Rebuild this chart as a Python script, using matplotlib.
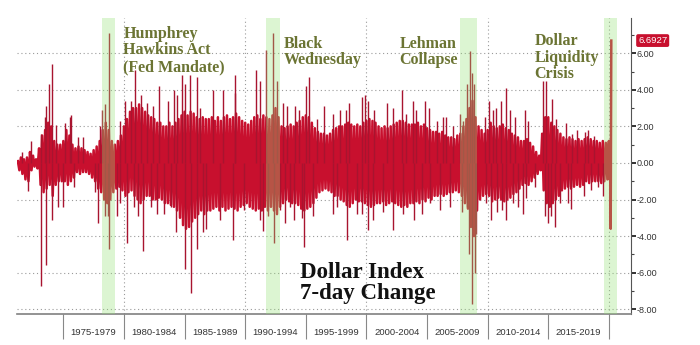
import numpy as np
import matplotlib.pyplot as plt
from matplotlib.ticker import MultipleLocator, FixedLocator, NullFormatter
from matplotlib.transforms import blended_transform_factory

# Dollar Index 7-day change (%), quarterly swing of the dense weekly series
start_year = 1971.25
body_hi = [
    0.1, 0.3, 0.2,             # 1971 (Q2-Q4)
    0.3, 0.6, 0.4, 0.2,        # 1972
    0.8, 1.5, 1.8, 2.2,        # 1973
    2.0, 1.2, 1.0, 1.0,        # 1974
    1.2, 1.8, 1.5, 1.0,        # 1975
    0.8, 0.9, 0.8, 0.7,        # 1976
    0.6, 0.5, 0.7, 0.9,        # 1977
    1.2, 1.8, 2.2, 1.8,        # 1978
    1.2, 1.0, 1.2, 1.5,        # 1979
    2.0, 2.4, 2.8, 3.0,        # 1980
    3.0, 3.2, 3.0, 2.8,        # 1981
    2.6, 2.5, 2.4, 2.2,        # 1982
    2.2, 2.0, 2.0, 2.2,        # 1983
    2.0, 2.2, 2.4, 2.6,        # 1984
    2.8, 2.6, 2.8, 2.7,        # 1985
    2.5, 2.4, 2.5, 2.4,        # 1986
    2.4, 2.5, 2.3, 2.5,        # 1987
    2.3, 2.5, 2.6, 2.4,        # 1988
    2.5, 2.7, 2.5, 2.3,        # 1989
    2.2, 2.1, 2.3, 2.5,        # 1990
    2.6, 2.4, 2.6, 2.5,        # 1991
    2.4, 2.6, 3.0, 2.5,        # 1992
    2.0, 1.9, 2.0, 2.1,        # 1993
    2.0, 2.2, 2.3, 2.5,        # 1994
    2.6, 2.5, 2.2, 1.9,        # 1995
    1.7, 1.6, 1.6, 1.5,        # 1996
    1.6, 1.8, 1.9, 2.0,        # 1997
    2.0, 2.1, 2.2, 2.1,        # 1998
    2.0, 2.1, 2.0, 2.2,        # 1999
    2.3, 2.4, 2.3, 2.2,        # 2000
    2.0, 1.9, 2.0, 1.9,        # 2001
    2.0, 2.1, 2.2, 2.3,        # 2002
    2.3, 2.2, 2.1, 2.1,        # 2003
    2.1, 2.2, 2.0, 2.1,        # 2004
    1.9, 1.8, 1.7, 1.7,        # 2005
    1.6, 1.7, 1.5, 1.4,        # 2006
    1.4, 1.3, 1.5, 1.6,        # 2007
    2.0, 2.4, 3.0, 3.4,        # 2008
    2.5, 2.0, 1.8, 1.6,        # 2009
    1.8, 2.2, 2.0, 1.9,        # 2010
    2.0, 2.1, 1.9, 1.8,        # 2011
    1.6, 1.5, 1.4, 1.2,        # 2012
    1.2, 1.3, 1.1, 0.9,        # 2013
    0.6, 0.4, 1.6, 2.5,        # 2014
    2.5, 2.2, 2.0, 1.8,        # 2015
    1.6, 1.4, 1.3, 1.4,        # 2016
    1.3, 1.2, 1.3, 1.2,        # 2017
    1.3, 1.4, 1.3, 1.2,        # 2018
    1.2, 1.1, 1.2, 1.1,        # 2019
]
body_lo = [
    -0.4, -0.6, -0.9,          # 1971
    -1.0, -0.4, -0.2, -0.3,    # 1972
    -1.2, -1.6, -1.4, -1.2,    # 1973
    -1.8, -1.2, -1.0, -1.0,    # 1974
    -1.0, -1.2, -1.0, -0.8,    # 1975
    -0.5, -0.6, -0.5, -0.5,    # 1976
    -0.6, -0.8, -1.0, -1.4,    # 1977
    -1.6, -2.0, -2.2, -2.0,    # 1978
    -1.6, -1.4, -1.3, -1.5,    # 1979
    -1.8, -1.6, -1.5, -1.8,    # 1980
    -2.0, -2.2, -2.0, -1.8,    # 1981
    -1.8, -2.0, -2.0, -1.9,    # 1982
    -2.0, -2.2, -2.2, -2.3,    # 1983
    -2.4, -2.6, -3.0, -3.4,    # 1984
    -3.6, -3.5, -3.2, -3.0,    # 1985
    -2.8, -2.6, -2.8, -2.6,    # 1986
    -2.6, -2.5, -2.4, -2.6,    # 1987
    -2.4, -2.6, -2.5, -2.4,    # 1988
    -2.5, -2.6, -2.4, -2.3,    # 1989
    -2.2, -2.4, -2.5, -2.6,    # 1990
    -2.5, -2.6, -2.4, -2.6,    # 1991
    -2.4, -2.6, -2.8, -2.4,    # 1992
    -2.2, -2.0, -2.1, -2.2,    # 1993
    -2.2, -2.3, -2.5, -2.6,    # 1994
    -2.5, -2.4, -2.2, -1.9,    # 1995
    -1.6, -1.5, -1.4, -1.5,    # 1996
    -1.6, -1.8, -1.8, -2.0,    # 1997
    -2.1, -2.3, -2.4, -2.2,    # 1998
    -2.0, -2.1, -2.1, -2.2,    # 1999
    -2.3, -2.4, -2.3, -2.2,    # 2000
    -2.2, -2.1, -2.3, -2.2,    # 2001
    -2.1, -2.2, -2.3, -2.4,    # 2002
    -2.3, -2.4, -2.2, -2.2,    # 2003
    -2.1, -2.2, -2.0, -2.1,    # 2004
    -1.9, -2.0, -1.8, -1.8,    # 2005
    -1.7, -1.8, -1.7, -1.6,    # 2006
    -1.6, -1.5, -1.6, -1.8,    # 2007
    -2.2, -2.5, -3.5, -4.0,    # 2008
    -2.6, -2.0, -1.8, -1.7,    # 2009
    -1.8, -2.1, -2.0, -1.9,    # 2010
    -2.0, -2.1, -2.0, -1.9,    # 2011
    -1.7, -1.6, -1.4, -1.2,    # 2012
    -1.1, -1.2, -1.0, -0.8,    # 2013
    -0.6, -0.4, -1.5, -2.2,    # 2014
    -2.4, -2.2, -2.0, -1.8,    # 2015
    -1.5, -1.4, -1.3, -1.4,    # 2016
    -1.3, -1.2, -1.3, -1.2,    # 2017
    -1.0, -1.1, -1.0, -1.0,    # 2018
    -1.0, -1.1, -1.0, -0.9,    # 2019
]

# single weeks that stick out of the band
spike_years = [
    1971.6, 1972.05, 1972.35, 1973.16, 1973.18, 1973.45, 1973.55, 1973.6, 1973.85, 1974.04,
    1974.1, 1974.4, 1974.55, 1974.95, 1975.1, 1975.55, 1975.65, 1975.9, 1976.2, 1976.6,
    1977.65, 1977.9, 1978.0, 1978.15, 1978.4, 1978.45, 1978.65, 1978.8, 1978.78, 1979.4,
    1979.65, 1979.7, 1980.09, 1980.23, 1980.6, 1980.8, 1980.91, 1981.2, 1981.4, 1981.6,
    1981.9, 1982.2, 1982.4, 1982.7, 1982.9, 1983.3, 1983.6, 1983.9, 1984.1, 1984.3,
    1984.35, 1984.76, 1985.03, 1985.05, 1985.45, 1985.5, 1986.0, 1986.02, 1986.3, 1986.5,
    1986.8, 1987.37, 1987.9, 1988.2, 1989.0, 1989.15, 1989.2, 1989.9, 1990.89, 1991.2,
    1991.22, 1991.5, 1991.7, 1991.9, 1992.3, 1992.4, 1992.6, 1992.9, 1993.1, 1993.3,
    1993.45, 1993.7, 1994.0, 1994.1, 1994.4, 1994.7, 1994.84, 1995.0, 1995.26, 1995.6,
    1995.95, 1996.5, 1997.26, 1997.28, 1997.54, 1997.8, 1998.3, 1998.36, 1998.6, 1999.2,
    1999.6, 1999.62, 1999.87, 2000.15, 2000.12, 2000.56, 2000.6, 2001.4, 2001.66, 2002.2,
    2002.22, 2002.9, 2003.03, 2003.3, 2003.85, 2003.9, 2004.13, 2004.55, 2004.8, 2005.2,
    2005.22, 2005.8, 2006.05, 2006.3, 2006.6, 2006.9, 2007.15, 2007.7, 2007.85, 2007.98,
    2008.26, 2008.3, 2008.47, 2008.53, 2008.72, 2008.75, 2008.86, 2008.94, 2009.08, 2009.76,
    2009.9, 2010.12, 2010.3, 2010.45, 2010.73, 2010.75, 2011.14, 2011.16, 2011.5, 2011.55,
    2011.83, 2012.1, 2012.24, 2012.5, 2012.9, 2013.06, 2013.2, 2013.33, 2013.9, 2014.6,
    2014.7, 2014.84, 2014.97, 2015.25, 2015.27, 2015.52, 2015.66, 2015.93, 2016.5, 2016.63,
    2016.9, 2016.92, 2017.4, 2017.97, 2017.99, 2018.25, 2018.5, 2018.8, 2019.1, 2019.5,
]
spike_vals = [
    0.6, -1.55, 1.2, -6.75, 1.6, 2.5, -5.6, 3.1, 4.3, 5.4,
    -3.1, 2.1, -2.4, -2.4, 2.2, 2.5, 2.6, -1.3, 1.4, 1.4,
    -1.6, -3.3, 2.0, 2.9, -2.9, 3.2, -2.9, -4.7, 7.1, -2.9,
    -2.2, 2.3, 3.4, -4.4, 3.4, -2.4, 5.1, -2.9, 3.7, -4.8,
    3.3, -2.4, 3.1, -2.8, 4.2, -2.8, 3.4, -2.4, 4.0, -3.8,
    3.7, 4.8, -5.8, 4.3, 4.8, -7.1, -4.7, 4.7, 3.0, -3.8,
    -3.6, 4.0, -3.1, 4.0, -4.2, 4.8, 3.8, -2.6, 5.1, 4.5,
    -3.1, -3.7, 6.2, -2.9, 7.1, -4.4, 4.5, -2.6, 3.3, -3.3,
    3.1, -2.4, -3.1, 3.1, 2.9, -3.0, -4.6, 4.2, 4.7, -2.9,
    2.4, 3.1, -2.8, 2.7, -2.4, 2.9, 2.9, -4.2, 3.3, -2.8,
    3.6, -2.8, 3.7, -3.65, 3.4, -3.1, 2.9, -2.7, 3.3, 3.0,
    -3.65, 4.0, -2.8, 2.7, 3.4, -3.1, 2.9, -2.8, 3.4, 3.0,
    -2.2, 2.3, -2.6, 2.5, 2.5, -2.4, 2.0, 2.7, -2.7, 2.3,
    -2.4, 4.3, -5.0, 6.1, -7.7, 4.9, 4.3, -6.0, -3.9, 2.5,
    -2.2, 3.4, -3.1, 2.9, 3.0, -2.7, 3.4, -2.6, 4.1, -3.1,
    2.9, -2.2, 2.5, -2.4, -2.8, 2.9, -1.9, 2.3, -1.3, 4.5,
    -2.9, 4.5, -3.3, -2.9, 3.5, -3.5, 2.4, -2.2, 2.2, -2.2,
    -2.5, 1.6, 1.8, -1.8, 1.7, 1.8, -1.5, 1.5, -1.3, -1.8,
]

# last weeks of the series, ending on the latest print
tail_years = [2020.0, 2020.06, 2020.11, 2020.15, 2020.2]
tail_vals = [1.2, -0.9, 1.0, -3.6, 6.6927]
last_value = 6.6927

period_labels = ['1975-1979', '1980-1984', '1985-1989', '1990-1994', '1995-1999',
                 '2000-2004', '2005-2009', '2010-2014', '2015-2019']
period_starts = [1975, 1980, 1985, 1990, 1995, 2000, 2005, 2010, 2015]

event_names = ['Humphrey\nHawkins Act\n(Fed Mandate)', 'Black\nWednesday',
               'Lehman\nCollapse', 'Dollar\nLiquidity\nCrisis']
event_starts = [1978.2, 1991.7, 2007.75, 2019.6]
event_ends = [1979.25, 1992.85, 2009.1, 2020.7]
event_text_x = [1979.95, 1993.2, 2002.75, 2013.85]
event_text_y = [7.5, 6.95, 6.95, 7.1]

bar_red = '#c8102e'
spike_red = '#a8142f'
band_green = '#96e178'
olive = '#6b7433'


def draw_series(ax):
    t = start_year + 0.25 * np.arange(len(body_hi))
    xs = np.column_stack([t, t + 0.125]).ravel()
    ys = np.column_stack([body_hi, body_lo]).ravel()
    xs = np.concatenate([xs, tail_years])
    ys = np.concatenate([ys, tail_vals])
    ax.plot(xs, ys, color=bar_red, lw=1.8, zorder=3)
    ax.vlines(spike_years, 0, spike_vals, color=spike_red, lw=1.0, zorder=3)


def main():
    fig = plt.figure(figsize=(7, 3.45), dpi=100)
    ax = fig.add_axes([0.0243, 0.0899, 0.8767, 0.8581])

    # event windows drawn over the series
    for s, e in zip(event_starts, event_ends):
        ax.axvspan(s, e, color=band_green, alpha=0.33, lw=0, zorder=4)

    draw_series(ax)

    # dotted grid
    for y in range(-8, 7, 2):
        ax.axhline(y, color='#9a9a9a', lw=0.8, ls=(0, (1, 2.5)), zorder=1)
    for x in [1980, 1990, 2000, 2010, 2020]:
        ax.axvline(x, color='#9a9a9a', lw=0.8, ls=(0, (1, 2.5)), zorder=1)

    ax.set_xlim(1971.18, 2021.8)
    ax.set_ylim(-8.26, 7.93)

    # right-hand value axis
    ax.yaxis.tick_right()
    ax.set_yticks(np.arange(-8, 7, 2))
    ax.set_yticklabels(['%.2f' % v for v in np.arange(-8, 7, 2)])
    ax.yaxis.set_minor_locator(MultipleLocator(1))
    ax.tick_params(axis='y', which='major', direction='out', length=3.5, width=1.3,
                   colors='#222222', labelsize=6.5, pad=1)
    ax.tick_params(axis='y', which='minor', direction='out', length=2.5, width=0.8,
                   color='#444444')
    for lab in ax.get_yticklabels():
        lab.set_fontfamily('Liberation Sans')
        lab.set_color('#333333')

    # five-year period axis: dividers on the boundaries, names in between
    centers = [p + 2.5 for p in period_starts]
    ax.xaxis.set_major_locator(FixedLocator(centers))
    ax.set_xticklabels(period_labels, fontsize=6.8, family='Liberation Sans', color='#333333')
    ax.xaxis.set_minor_locator(FixedLocator(period_starts + [2020]))
    ax.xaxis.set_minor_formatter(NullFormatter())
    ax.tick_params(axis='x', which='major', length=0, pad=10)
    ax.tick_params(axis='x', which='minor', direction='out', length=18, width=0.8, color='#888888')

    for side in ['left', 'top']:
        ax.spines[side].set_visible(False)
    ax.spines['right'].set_color('#555555')
    ax.spines['bottom'].set_color('#808080')
    ax.spines['bottom'].set_linewidth(1.2)

    for name, x, y in zip(event_names, event_text_x, event_text_y):
        ax.text(x, y, name, color=olive, fontsize=11.5, fontweight='bold',
                family='Liberation Serif', va='top', ha='left', linespacing=1.05, zorder=6)

    ax.text(1994.5, -5.4, 'Dollar Index\n7-day Change', color='#111111', fontsize=16.5,
            fontweight='bold', family='Liberation Serif', va='top', ha='left',
            linespacing=1.0, zorder=6)

    # latest value tag on the axis
    tr = blended_transform_factory(ax.transAxes, ax.transData)
    ax.text(1.012, last_value, '%.4f' % last_value, transform=tr, color='white',
            fontsize=6.8, family='Liberation Sans', va='center', ha='left',
            bbox=dict(boxstyle='round,pad=0.2,rounding_size=0.2', fc=bar_red, ec='none'),
            zorder=7, clip_on=False)

    plt.savefig('out.png', dpi=100)


if __name__ == "__main__":
    main()
